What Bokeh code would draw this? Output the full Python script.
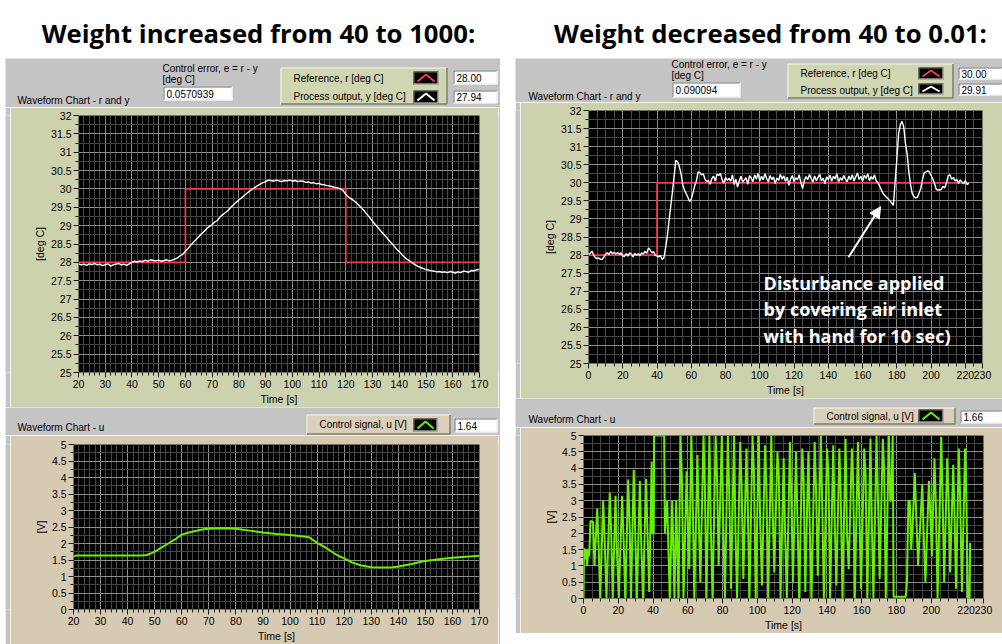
from bokeh.plotting import figure
from bokeh.models import Range1d, FixedTicker, NumeralTickFormatter, Arrow, NormalHead, Spacer
from bokeh.layouts import row, column
from bokeh.core.properties import value
from bokeh.embed import file_html
from bokeh.resources import INLINE

# ---------------- data ----------------
titles = ["Weight increased from 40 to 1000:", "Weight decreased from 40 to 0.01:"]

# left experiment (weight 1000)
l_r_t = [20, 60, 120, 170]
l_r_v = [28, 30, 28, 28]
l_y_t = list(range(20, 171))
l_y_v = [27.96, 27.93, 27.95, 27.92, 27.96, 27.94, 27.97, 27.93, 27.95, 27.91,
         27.94, 27.96, 27.90, 27.93, 27.95, 27.97, 27.93, 27.95, 27.92, 27.96,
         28.00, 28.03, 28.01, 28.04, 28.02, 28.06, 28.03, 28.07, 28.05, 28.04,
         28.06, 28.03, 28.05, 28.07, 28.04, 28.06, 28.09, 28.12, 28.18, 28.22,
         28.30, 28.38, 28.47, 28.55, 28.62, 28.70, 28.78, 28.84, 28.92, 28.98,
         29.03, 29.10, 29.14, 29.24, 29.30, 29.36, 29.42, 29.50, 29.57, 29.64,
         29.70, 29.76, 29.82, 29.88, 29.94, 29.99, 30.04, 30.09, 30.13, 30.17,
         30.20, 30.24, 30.23, 30.21, 30.24, 30.22, 30.20, 30.23, 30.22, 30.24,
         30.21, 30.23, 30.20, 30.22, 30.21, 30.18, 30.19, 30.16, 30.17, 30.14,
         30.15, 30.12, 30.11, 30.09, 30.08, 30.06, 30.04, 30.03, 30.00, 29.95,
         29.85, 29.78, 29.73, 29.68, 29.62, 29.55, 29.47, 29.39, 29.30, 29.21,
         29.12, 29.03, 28.95, 28.86, 28.78, 28.70, 28.61, 28.53, 28.45, 28.36,
         28.29, 28.21, 28.14, 28.08, 28.03, 27.98, 27.93, 27.89, 27.86, 27.83,
         27.80, 27.79, 27.77, 27.76, 27.74, 27.75, 27.73, 27.74, 27.72, 27.75,
         27.73, 27.71, 27.74, 27.72, 27.76, 27.75, 27.73, 27.78, 27.77, 27.80, 27.81]
l_u_t = [20, 21, 25, 30, 35, 40, 45, 47, 48, 50, 52, 55, 58, 60, 62, 65, 68, 70, 75, 80,
         85, 90, 95, 100, 105, 107, 110, 113, 116, 118, 120, 123, 126, 130, 135, 138, 140,
         145, 148, 150, 155, 160, 165, 170]
l_u_v = [1.60, 1.64, 1.64, 1.64, 1.64, 1.64, 1.64, 1.65, 1.68, 1.75, 1.85, 2.00, 2.15, 2.27,
         2.32, 2.38, 2.43, 2.45, 2.46, 2.45, 2.39, 2.33, 2.29, 2.26, 2.21, 2.19, 2.02, 1.88,
         1.72, 1.62, 1.55, 1.42, 1.34, 1.28, 1.27, 1.28, 1.30, 1.38, 1.44, 1.47, 1.52, 1.57,
         1.60, 1.63]

# right experiment (weight 0.01)
r_r_t = [0, 40, 222]
r_r_v = [28, 30, 30]
r_y_t = list(range(0, 223))
r_y_v = [28.02, 28.05, 28.11, 28.00, 27.93, 27.90, 27.92, 27.88, 27.88, 27.95,
         28.03, 28.06, 28.02, 28.10, 28.04, 28.08, 28.03, 28.07, 28.02, 28.06,
         27.98, 27.96, 28.04, 27.97, 28.06, 28.03, 27.95, 28.05, 27.99, 28.04,
         27.98, 28.06, 28.03, 28.10, 28.05, 28.20, 28.14, 28.06, 28.10, 27.99,
         27.97, 27.95, 27.99, 27.88, 27.92, 28.20, 28.52, 28.95, 29.35, 29.75,
         30.20, 30.62, 30.58, 30.45, 30.25, 29.95, 29.80, 29.70, 29.60, 29.48,
         29.55, 29.72, 29.92, 30.05, 30.30, 30.28, 30.22, 30.25, 30.10, 30.04,
         30.06, 29.96, 30.12, 30.18, 30.05, 30.24, 30.20, 30.26, 30.08, 29.99,
         30.15, 30.07, 30.12, 30.04, 30.22, 29.95, 30.10, 29.88, 30.05, 30.18,
         30.02, 30.08, 30.14, 29.96, 30.20, 30.13, 30.03, 30.22, 30.10, 30.26,
         30.05, 30.18, 30.08, 30.25, 30.12, 30.02, 30.20, 30.09, 30.16, 29.98,
         30.13, 30.07, 30.24, 30.10, 30.19, 30.04, 30.15, 29.93, 30.11, 30.20,
         30.03, 30.14, 30.08, 30.22, 30.00, 29.84, 30.06, 30.17, 30.09, 30.23,
         30.12, 30.02, 30.19, 30.06, 30.15, 30.24, 30.05, 30.13, 29.97, 30.16,
         30.09, 30.21, 30.04, 30.18, 30.11, 30.25, 30.02, 30.14, 30.07, 30.20,
         30.10, 30.03, 30.19, 30.08, 30.22, 30.05, 30.16, 30.27, 30.09, 30.18,
         30.04, 30.21, 30.12, 30.25, 30.06, 30.17, 30.10, 30.22, 30.05, 30.00,
         29.90, 29.80, 29.70, 29.65, 29.60, 29.55, 29.50, 29.44, 29.38, 30.05,
         30.65, 31.35, 31.60, 31.70, 31.55, 31.10, 30.80, 30.30, 29.95, 29.70,
         29.62, 29.58, 29.60, 29.72, 29.85, 30.10, 30.28, 30.30, 30.33, 30.30,
         30.20, 30.10, 29.98, 29.82, 29.80, 29.80, 29.82, 29.90, 29.86, 30.00,
         30.20, 30.22, 30.10, 30.15, 30.05, 30.10, 29.98, 30.08, 30.02, 29.97,
         30.06, 29.95, 29.99]
r_u_t = [0.0, 0.3, 0.9, 1.5, 2.1, 2.7, 3.3, 4.0, 5.5, 6.3, 7.9, 8.7, 9.6, 11.3, 12.1, 13.2,
         15.1, 15.9, 16.8, 18.4, 19.2, 20.3, 22.2, 23.0, 24.0, 25.7, 26.5, 27.3, 28.9, 29.7,
         30.7, 32.4, 33.2, 34.2, 36.0, 36.8, 37.8, 39.2, 39.6, 40.4, 40.6, 46.4, 46.8, 48.1,
         49.6, 51.0, 52.3, 53.3, 54.6,
         55.8, 56.6, 57.5, 59.3, 60.0, 60.8, 62.0, 62.8, 63.7, 65.5, 66.2, 67.2, 69.0, 69.8,
         70.7, 72.4, 73.2, 74.2, 76.0, 76.8, 77.7, 79.5, 80.3, 81.3, 83.0, 83.8, 84.8, 86.6,
         87.4, 88.3, 90.1, 90.9, 91.9, 93.7, 94.5, 95.4, 97.2, 98.0, 99.0, 100.8, 101.6,
         102.6, 104.4, 105.2, 106.2, 108.0, 108.8, 109.7, 111.5, 112.3, 113.3, 115.1, 115.9,
         116.9, 118.7, 119.5, 120.4, 122.2, 123.0, 124.0, 125.8, 126.6, 127.5, 129.3, 130.1,
         131.1, 132.9, 133.7, 134.7, 136.5, 137.3, 138.2, 140.0, 140.8, 141.8, 143.6, 144.4,
         145.4, 147.1, 147.9, 148.9, 150.7, 151.5, 152.5, 154.3, 155.1, 156.0, 157.8, 158.6,
         159.6, 161.4, 162.2, 163.2, 165.0, 165.8, 166.7, 168.5, 169.3, 170.3, 172.1, 172.9,
         173.8, 175.6, 176.4, 177.0, 177.8, 178.3,
         185.3, 186.0, 186.8, 187.6, 188.4, 189.2, 190.5, 191.3, 192.4, 194.8, 195.6, 196.6,
         198.6, 199.4, 200.3, 201.8, 202.6, 203.6, 205.7, 206.5, 207.4, 209.1, 209.9, 210.8,
         212.6, 213.4, 214.2, 215.8, 216.6, 217.6, 219.4, 220.2, 221.0, 222.0, 222.3]
r_u_v = [0.0, 1.55, 1.2, 1.5, 1.0, 1.5, 1.3, 2.38, 2.35, 1.0, 2.76, 1.6, 0.0, 3.0, 1.9, 0.0,
         3.25, 2.1, 0.0, 3.15, 1.5, 0.0, 3.15, 1.9, 0.0, 3.65, 2.3, 0.0, 3.94, 2.1,
         0.0, 3.6, 1.7, 0.0, 3.67, 2.0, 0.2, 4.2, 2.0, 2.0, 5.0, 5.0, 2.0, 3.0,
         0.0, 3.0, 0.0, 3.0, 0.0,
         5.0, 3.6, 0.0, 3.9, 2.4, 0.9, 5.0, 3.1, 0.0, 4.4, 2.6, 0.5, 5.0, 3.4,
         0.0, 5.0, 2.2, 0.0, 5.0, 3.7, 1.0, 5.0, 2.5, 0.0, 5.0, 3.2, 0.3, 5.0,
         2.0, 0.0, 4.8, 3.5, 0.6, 4.6, 2.7, 0.0, 5.0, 3.9, 0.0, 5.0, 2.3,
         0.4, 4.7, 3.3, 0.0, 5.0, 2.6, 0.8, 4.5, 3.8, 0.0, 4.3, 2.1,
         0.0, 4.8, 3.0, 0.5, 4.5, 2.5, 0.0, 4.6, 3.6, 0.2, 4.5, 2.2,
         0.0, 4.8, 3.4, 0.7, 5.0, 2.8, 0.0, 4.6, 3.9, 0.0, 4.7, 2.4,
         0.4, 4.6, 3.2, 0.0, 4.9, 2.0, 0.9, 4.6, 3.5, 0.0, 4.8, 2.7,
         0.3, 4.6, 3.8, 0.0, 4.9, 2.3, 0.0, 5.0, 3.1, 0.6, 4.9, 3.9,
         0.0, 5.0, 3.0, 3.0, 5.0, 0.05,
         0.05, 0.5, 3.0, 3.0, 1.5, 2.2, 3.85, 2.6, 1.0, 3.5, 2.0, 0.5,
         3.6, 2.6, 1.3, 4.3, 2.9, 0.0, 4.95, 3.0, 0.5, 4.3, 3.1, 0.8,
         4.1, 2.4, 0.3, 4.6, 3.0, 0.2, 4.6, 2.9, 0.0, 0.0, 1.7]

# indicator readouts
l_readouts = {"err": "0.0570939", "r": "28.00", "y": "27.94", "u": "1.64"}
r_readouts = {"err": "0.090094", "r": "30.00", "y": "29.91", "u": "1.66"}

# axis ticks
temp_major = [25 + 0.5 * i for i in range(15)]
temp_minor = [25 + 0.25 * i for i in range(29)]
volt_major = [0.5 * i for i in range(11)]
volt_minor = [0.25 * i for i in range(21)]
l_time_major = list(range(20, 171, 10))
l_time_minor = list(range(20, 171, 2))
r_time_major = list(range(0, 221, 20)) + [230]
r_time_minor = list(range(0, 231, 5))

note_lines = ["Disturbance applied", "by covering air inlet", "with hand for 10 sec)"]

# ---------------- styles ----------------
GRAY = "#c4c4c4"
BEIGE_TOP = "#cdd2ae"
BEIGE_BOT = "#d6cab3"
LEG_TOP = "#d0d5b2"
LEG_BOT = "#dacfba"
RED = "#f23c4b"
GREEN = "#66f000"
MAJ_GRID = "#8c8c8c"
MIN_GRID = "#454545"
SMALL = "Liberation Sans"


def blank(w, h, bg):
    p = figure(width=w, height=h, x_range=Range1d(0, w), y_range=Range1d(h, 0),
               toolbar_location=None, output_backend="svg", min_border=0,
               x_axis_location=None, y_axis_location=None, title_location=None,
               background_fill_color=bg, border_fill_color=bg, outline_line_color=None)
    p.grid.visible = False
    return p


def txt(p, x, y, s, size="10px", align="left", baseline="middle", color="black",
        font=SMALL, style="normal"):
    p.text(x=[x], y=[y], text=[s], text_font=value(font), text_font_size=size,
           text_align=align, text_baseline=baseline, text_color=color,
           text_font_style=style)


def raised(p, l, t, r, b, fill):
    p.quad(left=l, right=r, top=t, bottom=b, fill_color=fill, line_color=None)
    p.line([l + 0.5, l + 0.5, r - 0.5], [b - 0.5, t + 0.5, t + 0.5], line_color="#f4f6ea", line_width=1)
    p.line([l + 0.5, r - 0.5, r - 0.5], [b - 0.5, b - 0.5, t + 0.5], line_color="#7d7f68", line_width=1.5)


def sunken(p, l, t, r, b, fill="white"):
    p.quad(left=l, right=r, top=t, bottom=b, fill_color=fill, line_color=None)
    p.line([l + 0.5, l + 0.5, r - 0.5], [b - 0.5, t + 0.5, t + 0.5], line_color="#6e6e6e", line_width=1)
    p.line([l + 0.5, r - 0.5, r - 0.5], [b - 0.5, b - 0.5, t + 0.5], line_color="#ececec", line_width=1)


def icon(p, l, t, r, b, color):
    sunken(p, l, t, r, b, fill="#000000")
    m = (l + r) / 2
    p.line([l + 4, m, r - 4], [b - 3, t + 3, b - 3], line_color=color, line_width=2)


def chart(w, h, bl, br, bt, bb, xr, yr, xmaj, xmin, ymaj, ymin, fill, ylabel):
    p = figure(width=w, height=h, x_range=Range1d(*xr), y_range=Range1d(*yr),
               toolbar_location=None, output_backend="svg", title_location=None,
               min_border_left=bl, min_border_right=br, min_border_top=bt,
               min_border_bottom=bb, background_fill_color="#000000",
               border_fill_color=fill, outline_line_color=None)
    xt = FixedTicker(ticks=xmaj, minor_ticks=xmin)
    yt = FixedTicker(ticks=ymaj, minor_ticks=ymin)
    p.xaxis.ticker = xt
    p.yaxis.ticker = yt
    p.xgrid.ticker = xt
    p.ygrid.ticker = yt
    p.xaxis.formatter = NumeralTickFormatter(format="0")
    p.yaxis.formatter = NumeralTickFormatter(format="0.[0]")
    p.xaxis.axis_label = "Time [s]"
    p.yaxis.axis_label = ylabel
    for ax in p.axis:
        ax.axis_line_color = None
        ax.major_tick_line_color = "#1a1a1a"
        ax.minor_tick_line_color = "#1a1a1a"
        ax.major_tick_out = 5
        ax.major_tick_in = 0
        ax.minor_tick_out = 3
        ax.minor_tick_in = 0
        ax.major_label_text_font = SMALL
        ax.major_label_text_font_size = "10.5px"
        ax.major_label_text_color = "#000000"
        ax.major_label_standoff = 2
        ax.axis_label_text_font = SMALL
        ax.axis_label_text_font_size = "10.5px"
        ax.axis_label_text_font_style = "normal"
        ax.axis_label_text_color = "#000000"
        ax.axis_label_standoff = 2
    for g in p.grid:
        g.grid_line_color = MAJ_GRID
        g.minor_grid_line_color = MIN_GRID
    return p


# ---------------- title row ----------------
tfig = blank(1002, 58, "white")
txt(tfig, 258, 33, titles[0], size="25.7px", align="center", baseline="alphabetic",
    font="Open Sans", style="bold")
txt(tfig, 770, 33, titles[1], size="25.7px", align="center", baseline="alphabetic",
    font="Open Sans", style="bold")


def top_header(w, h, ro, lay):
    p = blank(w, h, GRAY)
    cx, cy1, cy2 = lay["ctrl"]
    txt(p, cx, cy1, "Control error, e = r - y", baseline="top")
    txt(p, cx, cy2, "[deg C]", baseline="top")
    l, t, r, b = lay["errbox"]
    sunken(p, l, t, r, b)
    txt(p, l + 3, (t + b) / 2, ro["err"])
    txt(p, lay["wc"][0], lay["wc"][1], "Waveform Chart - r and y")
    l, t, r, b = lay["leg"]
    raised(p, l, t, r, b, LEG_TOP)
    tx, ty1, ty2 = lay["legtxt"]
    txt(p, tx, ty1, "Reference, r [deg C]")
    txt(p, tx, ty2, "Process output, y [deg C]")
    il, ir, it1, ib1, it2, ib2 = lay["icons"]
    icon(p, il, it1, ir, ib1, RED)
    icon(p, il, it2, ir, ib2, "white")
    vl, vr, vt1, vb1, vt2, vb2 = lay["vals"]
    sunken(p, vl, vt1, vr, vb1)
    txt(p, vl + 3, (vt1 + vb1) / 2, ro["r"])
    sunken(p, vl, vt2, vr, vb2)
    txt(p, vl + 3, (vt2 + vb2) / 2, ro["y"])
    return p


def bot_header(w, h, ro, lay):
    p = blank(w, h, GRAY)
    txt(p, lay["wc"][0], lay["wc"][1], "Waveform Chart - u")
    l, t, r, b = lay["leg"]
    raised(p, l, t, r, b, LEG_BOT)
    txt(p, lay["legtxt"][0], lay["legtxt"][1], "Control signal, u [V]")
    l, t, r, b = lay["icon"]
    icon(p, l, t, r, b, GREEN)
    l, t, r, b = lay["val"]
    sunken(p, l, t, r, b)
    txt(p, l + 3, (t + b) / 2, ro["u"])
    return p


def strip(w, h):
    return blank(w, h, GRAY)


# ---------------- left column (page x 5..500) ----------------
h1 = top_header(495, 49, l_readouts, {
    "ctrl": (157, 4, 15.5), "errbox": (158, 28, 227, 42), "wc": (12, 42),
    "leg": (275, 9, 442, 46), "legtxt": (288, 20, 38),
    "icons": (408, 433, 13, 26, 32, 45), "vals": (448, 492, 12, 26, 32, 45)})

c1 = chart(488, 300, 68, 19, 8, 34, (20, 170), (25, 32), l_time_major, l_time_minor,
           temp_major, temp_minor, BEIGE_TOP, "[deg C]")
c1.step(l_r_t, l_r_v, mode="after", line_color=RED, line_width=1.7)
c1.line(l_y_t, l_y_v, line_color="white", line_width=1.4)

h2 = bot_header(495, 28, l_readouts, {
    "wc": (12, 20), "leg": (301, 7, 445, 27), "legtxt": (314, 17),
    "icon": (408, 11, 432, 24), "val": (449, 11, 492, 25)})

c2 = chart(488, 209, 63, 19, 9, 32, (20, 170), (0, 5), l_time_major, l_time_minor,
           volt_major, volt_minor, BEIGE_BOT, "[V]")
c2.line(l_u_t, l_u_v, line_color=GREEN, line_width=2)

left_col = column(
    h1,
    row(strip(5, 300), c1, strip(2, 300)),
    h2,
    row(strip(5, 209), c2, strip(2, 209)),
)

# ---------------- right column (page x 515..1002) ----------------
h3 = top_header(487, 44, r_readouts, {
    "ctrl": (156, 0.5, 11.5), "errbox": (157, 24, 225, 39), "wc": (13, 37.5),
    "leg": (272, 5, 438, 40), "legtxt": (285, 15, 31.5),
    "icons": (403, 428, 9, 21, 25, 36), "vals": (443, 487, 9, 21, 25, 37)})

c3 = chart(482, 296, 68, 20, 8, 33, (0, 230), (25, 32), r_time_major, r_time_minor,
           temp_major, temp_minor, BEIGE_TOP, "[deg C]")
c3.step(r_r_t, r_r_v, mode="after", line_color=RED, line_width=1.7)
c3.line(r_y_t, r_y_v, line_color="white", line_width=1.4)
c3.add_layout(Arrow(end=NormalHead(size=11, fill_color="white", line_color="white"),
                    x_start=151.8, y_start=27.94, x_end=170.5, y_end=29.34,
                    line_color="white", line_width=2))
c3.text(x=[102.2] * 3, y=[27.22, 26.51, 25.77], text=note_lines,
        text_font=value("Open Sans"), text_font_style="bold", text_font_size="18px",
        text_color="white", text_baseline="alphabetic", text_align="left")

h4 = bot_header(487, 29, r_readouts, {
    "wc": (13, 21), "leg": (298, 9, 440, 26), "legtxt": (311, 17.5),
    "icon": (403, 11, 428, 24), "val": (445, 12, 487, 25)})

c4 = chart(482, 206, 63, 19, 8, 32, (0, 230), (0, 5), r_time_major, r_time_minor,
           volt_major, volt_minor, BEIGE_BOT, "[V]")
c4.line(r_u_t, r_u_v, line_color=GREEN, line_width=2)

right_col = column(
    h3,
    row(strip(5, 296), c3),
    h4,
    row(strip(5, 206), c4),
)

layout = column(tfig, row(Spacer(width=5, height=586), left_col,
                          Spacer(width=15, height=586), right_col))

open("out.html", "w").write(file_html(layout, INLINE))
